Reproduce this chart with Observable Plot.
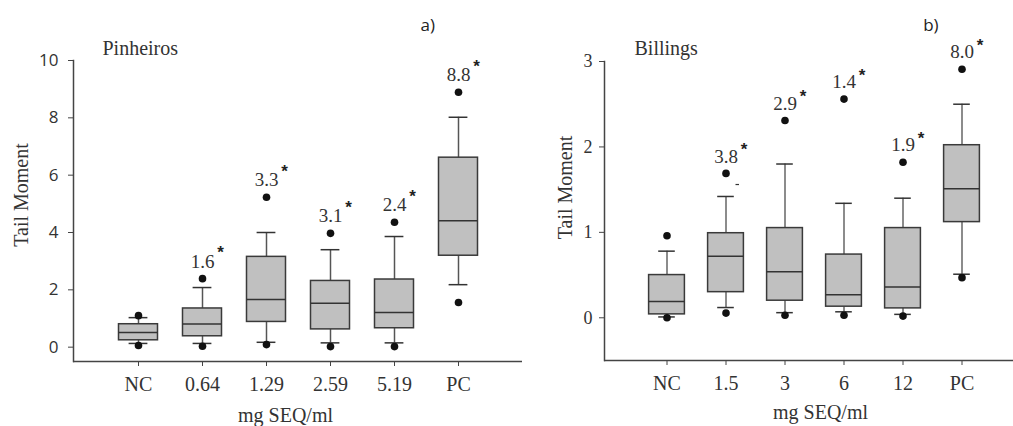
<!DOCTYPE html>
<html><head><meta charset="utf-8">
<script src="https://cdn.jsdelivr.net/npm/d3@7"></script>
<script src="https://cdn.jsdelivr.net/npm/@observablehq/plot@0.6"></script>
<style>
body{margin:0;background:#fff;}
#wrap{position:relative;width:1013px;height:426px;overflow:hidden;background:#fff;}
#a{position:absolute;left:0;top:0;}
#b{position:absolute;left:510px;top:0;}
</style></head><body><div id="wrap"><div id="a"></div><div id="b"></div></div>
<script>
// Panel a) Pinheiros
const catsA = ["NC","0.64","1.29","2.59","5.19","PC"];
const q1A = [0.24,0.38,0.88,0.62,0.66,3.19];
const medA = [0.51,0.81,1.66,1.53,1.21,4.41];
const q3A = [0.80,1.35,3.15,2.31,2.36,6.61];
const loA = [0.13,0.13,0.17,0.15,0.15,2.18];
const hiA = [1.03,2.08,4.00,3.40,3.86,8.02];
const outLoA = [0.06,0.03,0.09,0.02,0.02,1.56];
const outHiA = [1.10,2.39,5.23,3.97,4.36,8.89];
const labA = ["","1.6","3.3","3.1","2.4","8.8"];
const yTicksA = [0,2,4,6,8,10];

// Panel b) Billings
const catsB = ["NC","1.5","3","6","12","PC"];
const q1B = [0.04,0.30,0.20,0.13,0.11,1.12];
const medB = [0.19,0.72,0.54,0.27,0.36,1.51];
const q3B = [0.50,0.99,1.05,0.74,1.05,2.02];
const loB = [0.01,0.12,0.06,0.07,0.04,0.51];
const hiB = [0.78,1.42,1.80,1.34,1.40,2.50];
const outLoB = [0.00,0.055,0.03,0.03,0.02,0.47];
const outHiB = [0.96,1.69,2.31,2.56,1.82,2.91];
const labB = ["","3.8","2.9","1.4","1.9","8.0"];
const yTicksB = [0,1,2,3];
const strayB = [{cat:"1.5", v:1.56}];

const SERIF = "'Liberation Serif', 'Times New Roman', serif";
const SANS = "'Open Sans', 'Noto Sans', sans-serif";

function rowsOf(cats,q1,med,q3,lo,hi,oLo,oHi,lab){
  return cats.map((c,i)=>({cat:c,q1:q1[i],med:med[i],q3:q3[i],lo:lo[i],hi:hi[i],oLo:oLo[i],oHi:oHi[i],lab:lab[i]}));
}

function chart(o){
  const rows = o.rows;
  const labeled = rows.filter(d=>d.lab);
  return Plot.plot({
    width:o.width, height:426,
    marginTop:o.mt, marginBottom:o.mb, marginLeft:o.ml, marginRight:o.mr,
    style:{fontFamily:SERIF, fontSize:"20px", color:"#333", background:"transparent", overflow:"visible"},
    x:{type:"band", domain:o.cats, range:o.xr, padding:0, label:null},
    y:{domain:o.yd, label:null},
    marks:[
      Plot.ruleX(rows,{x:"cat",y1:"lo",y2:"q1",stroke:o.wc,strokeWidth:1.5}),
      Plot.ruleX(rows,{x:"cat",y1:"q3",y2:"hi",stroke:o.wc,strokeWidth:1.5}),
      Plot.tickY(rows,{x:"cat",y:"lo",stroke:"#333",strokeWidth:1.5,insetLeft:o.capIn,insetRight:o.capIn}),
      Plot.tickY(rows,{x:"cat",y:"hi",stroke:"#333",strokeWidth:1.5,insetLeft:o.capIn,insetRight:o.capIn}),
      Plot.barY(rows,{x:"cat",y1:"q1",y2:"q3",fill:"#c0c0c0",stroke:"#3a3a3a",strokeWidth:1.5,insetLeft:o.boxIn,insetRight:o.boxIn}),
      Plot.tickY(rows,{x:"cat",y:"med",stroke:"#333",strokeWidth:1.5,insetLeft:o.boxIn,insetRight:o.boxIn}),
      ...(o.stray ? [Plot.tickY(o.stray,{x:"cat",y:"v",stroke:"#333",strokeWidth:1.2,insetLeft:39.5,insetRight:16})] : []),
      Plot.dot(rows,{x:"cat",y:"oLo",r:3.8,fill:"#111"}),
      Plot.dot(rows,{x:"cat",y:"oHi",r:3.8,fill:"#111"}),
      Plot.text(labeled,{x:"cat",y:"oHi",text:"lab",dy:-17,fontSize:19,fontFamily:SERIF,fill:"#333"}),
      Plot.text(labeled,{x:"cat",y:"oHi",text:()=>"*",dx:18,dy:o.starDy+4,fontSize:17,fontWeight:"bold",fontFamily:"'Liberation Sans', sans-serif",fill:"#222"}),
      Plot.ruleY([o.yd[0]],{stroke:"#444",strokeWidth:1.5}),
      Plot.frame({anchor:"left",stroke:"#444",strokeWidth:1.5}),
      Plot.axisX({tickSize:5,tickPadding:10,fontSize:20,fontFamily:SERIF,label:null,stroke:"#444",fill:"#333"}),
      Plot.axisY({ticks:o.yt,tickSize:5,tickPadding:o.ytp,fontSize:o.yfs,fontFamily:o.yff,label:null,stroke:"#444",fill:"#333",tickFormat:d=>String(d)}),
      Plot.text(["Tail Moment"],{frameAnchor:"left",textAnchor:"middle",lineAnchor:"middle",rotate:-90,dx:o.ylx,dy:o.yly,fontSize:20,fontFamily:SERIF,fill:"#333"}),
      Plot.text(["mg SEQ/ml"],{frameAnchor:"bottom",lineAnchor:"middle",dx:o.xlx,dy:o.xly,fontSize:20,fontFamily:SERIF,fill:"#333"}),
      Plot.text([o.title],{frameAnchor:"top-left",textAnchor:"start",lineAnchor:"middle",dx:o.tdx,dy:o.tdy,fontSize:20,fontFamily:SERIF,fill:"#333"}),
      Plot.text([o.tag],{frameAnchor:"top-left",textAnchor:"start",lineAnchor:"middle",dx:o.gdx,dy:o.gdy,fontSize:17,fontFamily:SANS,fill:"#222"})
    ]
  });
}

document.getElementById("a").appendChild(chart({
  rows:rowsOf(catsA,q1A,medA,q3A,loA,hiA,outLoA,outHiA,labA), cats:catsA,
  width:525, mt:60, mb:65, ml:73, mr:3, xr:[106,490], yd:[-0.5,10], yt:yTicksA,
  wc:"#555", capIn:22.6, boxIn:12.5, starDy:-30,
  ytp:10, yfs:17, yff:SANS,
  ylx:-52, yly:-16, xlx:-12.5, xly:54,
  title:"Pinheiros", tdx:29, tdy:-12, tag:"a)", gdx:347, gdy:-35
}));

document.getElementById("b").appendChild(chart({
  rows:rowsOf(catsB,q1B,medB,q3B,loB,hiB,outLoB,outHiB,labB), cats:catsB,
  width:503, mt:61, mb:66, ml:94, mr:0, xr:[124.5,482.5], yd:[-0.5,3], yt:yTicksB,
  wc:"#666", capIn:21.2, boxIn:11.6, starDy:-28, stray:strayB,
  ytp:7, yfs:18, yff:SERIF,
  ylx:-39, yly:-23.5, xlx:11.5, xly:52,
  title:"Billings", tdx:30, tdy:-13, tag:"b)", gdx:318.7, gdy:-36
}));
</script></body></html>
